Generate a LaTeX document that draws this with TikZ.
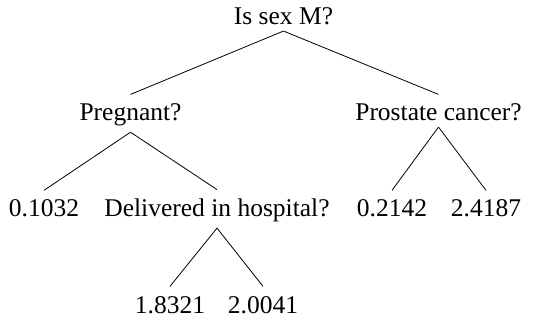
\documentclass[tikz,border=0pt]{standalone}
\usepackage{fontspec}
\setmainfont{Liberation Serif}
\begin{document}
\begin{tikzpicture}[x=1pt,y=1pt,
  lab/.style={anchor=base,inner sep=0pt,font=\fontsize{25.5pt}{30pt}\selectfont},
  edge/.style={line width=0.8pt}]
\useasboundingbox (0,0) rectangle (551,-320);
\node[lab] (root) at (283.5,-25) {Is sex M?};
\node[lab] (preg) at (130.5,-121) {Pregnant?};
\node[lab] (pros) at (438.5,-121) {Prostate cancer?};
\node[lab] (l1) at (44,-217) {0.1032};
\node[lab] (deliv) at (217,-217) {Delivered in hospital?};
\node[lab] (l2) at (392,-217) {0.2142};
\node[lab] (l3) at (486,-217) {2.4187};
\node[lab] (l4) at (170,-313) {1.8321};
\node[lab] (l5) at (263,-313) {2.0041};
\foreach \p/\c in {root/preg,root/pros,preg/l1,preg/deliv,pros/l2,pros/l3,deliv/l4,deliv/l5}
  \draw[edge] ([yshift=-5.5pt]\p.south) -- ([yshift=9.5pt]\c.north);
\end{tikzpicture}
\end{document}
